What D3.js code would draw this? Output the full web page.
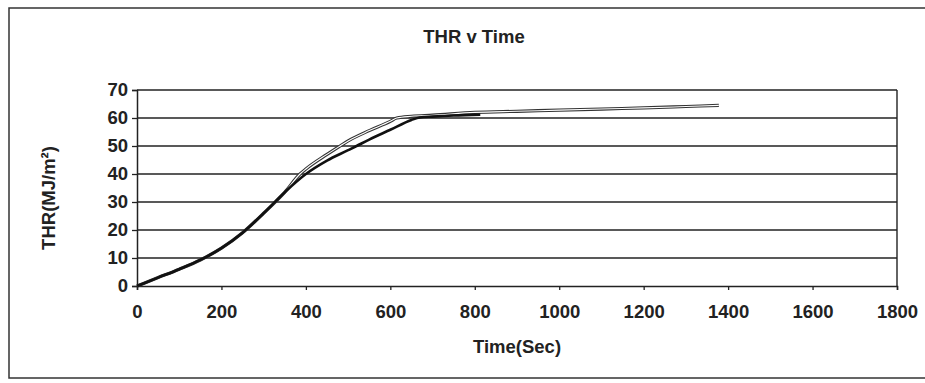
<!DOCTYPE html>
<html><head><meta charset="utf-8">
<script src="https://cdn.jsdelivr.net/npm/d3@7"></script>
<style>body{margin:0;background:#fff}</style>
</head><body>
<svg id="c" width="925" height="383"></svg>
<script>
const title = "THR v Time";
const xTitle = "Time(Sec)";
const yTitle = "THR(MJ/m²)";
const xTicks = [0,200,400,600,800,1000,1200,1400,1600,1800];
const yTicks = [0,10,20,30,40,50,60,70];
// Series A (light line, longer test)
const timeA = [0,50,100,150,200,250,300,350,386,400,450,481,500,550,600,615,650,700,800,900,1000,1100,1200,1300,1378];
const thrA  = [0,3,6,9.3,13.5,19,26,33.5,40,41.8,47,50,51.8,55.5,58.8,60,60.6,61,62,62.4,62.8,63.2,63.6,64.1,64.5];
// Series B (dark line)
const timeB = [0,50,100,150,200,250,300,350,400,450,500,520,550,600,650,670,700,750,813];
const thrB  = [0,3,6,9.3,13.5,19,26,33.5,40,44.8,48.5,50,52.3,55.8,59.3,60.2,60.5,60.9,61.2];

const svg = d3.select("#c");
const font = "'Liberation Sans', Arial, sans-serif";
const fs = "18.5px";
const x = d3.scaleLinear().domain([0,1800]).range([137,897]);
const y = d3.scaleLinear().domain([0,70]).range([286,90]);

// outer border
svg.append("rect").attr("x",9).attr("y",8).attr("width",930).attr("height",370)
  .attr("fill","none").attr("stroke","#333").attr("stroke-width",1.5);

// gridlines
svg.append("g").selectAll("line").data(yTicks.filter(d=>d>0)).join("line")
  .attr("x1",x(0)).attr("x2",x(1800)).attr("y1",d=>y(d)).attr("y2",d=>y(d))
  .attr("stroke","#222").attr("stroke-width",1.4);
// right border of plot
svg.append("line").attr("x1",x(1800)).attr("x2",x(1800)).attr("y1",y(70)).attr("y2",y(0))
  .attr("stroke","#222").attr("stroke-width",1.4);

const xAxis = svg.append("g").attr("transform",`translate(0,${y(0)})`)
  .call(d3.axisBottom(x).tickValues(xTicks).tickSize(4).tickPadding(15).tickFormat(d3.format("d")));
const yAxis = svg.append("g").attr("transform",`translate(${x(0)},0)`)
  .call(d3.axisLeft(y).tickValues(yTicks).tickSize(5).tickPadding(4).tickFormat(d3.format("d")));
[xAxis,yAxis].forEach(a=>{
  a.select(".domain").attr("stroke","#222").attr("stroke-width",1.5);
  a.selectAll(".tick line").attr("stroke","#222").attr("stroke-width",1.3);
  a.selectAll("text").attr("fill","#222").style("font-family",font).style("font-size",fs).style("font-weight","bold");
});

const line = d3.line().curve(d3.curveMonotoneX).x(d=>x(d[0])).y(d=>y(d[1]));
const dA = timeA.map((t,i)=>[t,thrA[i]]);
const dB = timeB.map((t,i)=>[t,thrB[i]]);
svg.append("path").datum(dA).attr("d",line).attr("fill","none").attr("stroke","#333").attr("stroke-width",3.2);
svg.append("path").datum(dA).attr("d",line).attr("fill","none").attr("stroke","#fff").attr("stroke-width",1.1);
svg.append("path").datum(dB).attr("d",line).attr("fill","none").attr("stroke","#111").attr("stroke-width",2.6);

const ts = (sel)=>sel.style("font-family",font).style("font-size",fs).style("font-weight","bold").attr("fill","#222");
ts(svg.append("text").attr("x",474).attr("y",43).attr("text-anchor","middle")).text(title);
ts(svg.append("text").attr("x",517).attr("y",353).attr("text-anchor","middle")).text(xTitle);
ts(svg.append("text").attr("transform","translate(55,198) rotate(-90)").attr("text-anchor","middle")).text(yTitle);
</script>
</body></html>
